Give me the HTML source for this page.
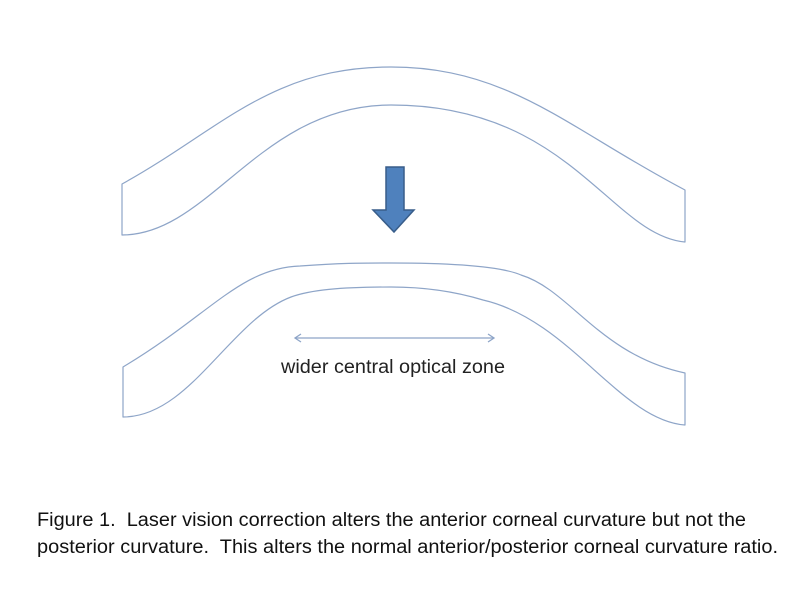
<!DOCTYPE html>
<html><head><meta charset="utf-8"><style>
html,body{margin:0;padding:0;background:#fff;}
svg{display:block;}
</style></head><body>
<svg width="800" height="600" viewBox="0 0 800 600" xmlns="http://www.w3.org/2000/svg">
<g fill="none" stroke="#8ea5c8" stroke-width="1.2" stroke-linejoin="round">
<path d="M122,235 L122,184 C220,130 270,67 391,67 C510,67 570,130 685,190 L685,242 C610,235 570,105 391,105 C260,105 210,235 122,235 Z"/>
<path d="M123,417 L123,367 C210,315 240,268 300,266 C340,263 360,263 391,263 C450,263 500,266 521,275 C570,290 600,355 685,373 L685,425 C620,420 570,320 483,300 C450,290 420,287 391,287 C340,287 310,290 291,297 C230,320 190,417 123,417 Z"/>
</g>
<g stroke="#8ea5c8" stroke-width="1.3" fill="none">
<line x1="295" y1="338" x2="494" y2="338"/>
<polyline points="301,334 295,338 301,342"/>
<polyline points="488,334 494,338 488,342"/>
</g>
<polygon points="386,167 404,167 404,210 414,210 394,232 373,210 386,210" fill="#4f81bd" stroke="#385d8a" stroke-width="1.5"/>
<text x="281" y="373" textLength="224" lengthAdjust="spacingAndGlyphs" font-family="Liberation Sans, sans-serif" font-size="19" fill="#222">wider central optical zone</text>
<text font-family="Liberation Sans, sans-serif" font-size="19" fill="#111" xml:space="preserve">
<tspan x="37" y="526" textLength="709" lengthAdjust="spacingAndGlyphs">Figure 1.  Laser vision correction alters the anterior corneal curvature but not the</tspan>
<tspan x="37" y="553" textLength="741" lengthAdjust="spacingAndGlyphs">posterior curvature.  This alters the normal anterior/posterior corneal curvature ratio.</tspan>
</text>
</svg>
</body></html>
